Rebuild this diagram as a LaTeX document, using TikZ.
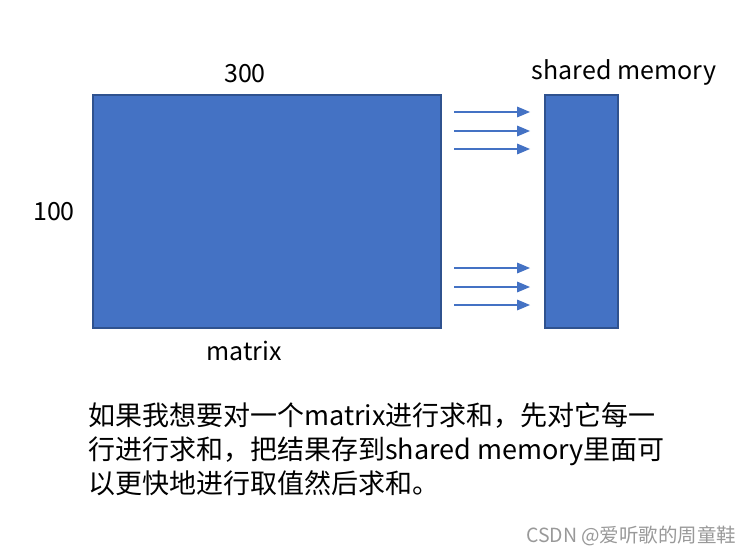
\documentclass[tikz,border=0pt]{standalone}
\usepackage{fontspec}
\setmainfont{Noto Sans CJK SC}
\usepackage{tikz}
\usetikzlibrary{arrows,positioning}

\definecolor{blk}{HTML}{4472C4}
\definecolor{blkedge}{HTML}{2F528F}

\begin{document}
\begin{tikzpicture}[x=1pt,y=-1pt]

\useasboundingbox (0,0) rectangle (753,554);

\tikzstyle{box}=[rectangle,draw=blkedge,fill=blk,line width=1.5pt,inner sep=0pt]
\tikzstyle{lbl}=[font=\fontsize{25}{28}\selectfont]
\tikzstyle{txt}=[anchor=base west,inner sep=0pt,font=\fontsize{27}{34}\selectfont]
\tikzstyle{arr}=[draw=blk,line width=2pt,-triangle 45]

\node (mat) at (267,211.5) [box,minimum width=348pt,minimum height=233pt] {};
\node (shm) at (581.5,211.5) [box,minimum width=73pt,minimum height=233pt] {};

\node (len) at (245,74) [lbl] {300};
\node (rows) at (54,212) [lbl] {100};
\node (matname) at (244,351) [lbl] {matrix};
\node (shmname) at (624,72) [lbl] {shared memory};

% rows copied over
\foreach \y [count=\i] in {112,131,149,268,287,305} {
  \coordinate (s\i) at (454,\y);
  \coordinate (e\i) at (530,\y);
  \draw[arr] (s\i)--(e\i);
}

\node (line1) at (88,425) [txt] {如果我想要对一个matrix进行求和，先对它每一};
\node (line2) at (88,459) [txt] {行进行求和，把结果存到shared memory里面可};
\node (line3) at (88,493) [txt] {以更快地进行取值然后求和。};

\node (mark) at (740,536) [anchor=east,text=black!40,font=\fontsize{19.5}{22}\selectfont] {CSDN @爱听歌的周童鞋};

\end{tikzpicture}
\end{document}
